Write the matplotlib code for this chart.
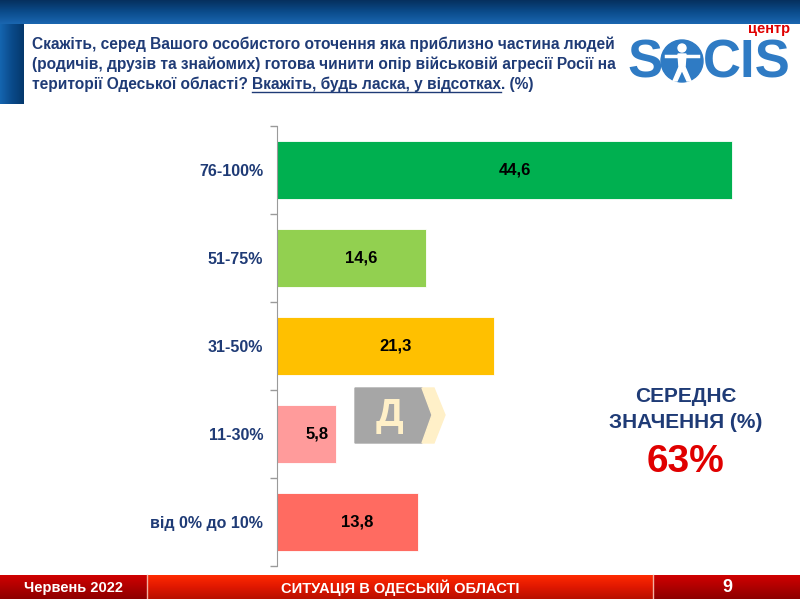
import matplotlib
matplotlib.use("Agg")
import matplotlib.pyplot as plt
import numpy as np
from matplotlib.colors import LinearSegmentedColormap
from matplotlib.patches import Polygon, Circle

# ---------------- data ----------------
categories = ["76-100%", "51-75%", "31-50%", "11-30%", "від 0% до 10%"]
values = [44.6, 14.6, 21.3, 5.8, 13.8]
bar_colors = ["#00B050", "#92D050", "#FFC000", "#FF9B9B", "#FF6B61"]
value_labels = ["44,6", "14,6", "21,3", "5,8", "13,8"]

title_lines = [
    "Скажіть, серед Вашого особистого оточення яка приблизно частина людей",
    "(родичів, друзів та знайомих) готова чинити опір військовій агресії Росії на",
]
title_line3 = ["території Одеської області? ", "Вкажіть, будь ласка, у відсотках", ". (%)"]
mean_label = ["СЕРЕДНЄ", "ЗНАЧЕННЯ (%)"]
mean_value = "63%"
footer_left = "Червень 2022"
footer_mid = "СИТУАЦІЯ В ОДЕСЬКІЙ ОБЛАСТІ"
footer_right = "9"

ARIAL = ["Liberation Sans", "DejaVu Sans"]
NAVY = "#1F3B76"

W, H = 800, 599
fig = plt.figure(figsize=(W / 100, H / 100), dpi=100)
fig.patch.set_facecolor("white")

bg = fig.add_axes([0, 0, 1, 1], zorder=0)
bg.set_xlim(0, W)
bg.set_ylim(H, 0)
bg.axis("off")

# header gradient band
hdr = LinearSegmentedColormap.from_list("hdr", ["#06305E", "#0B4C8C", "#1A66B0"])
grad_v = np.linspace(0, 1, 64).reshape(-1, 1)
bg.imshow(grad_v, cmap=hdr, extent=[0, W, 24, 0], aspect="auto", zorder=1)
strip = LinearSegmentedColormap.from_list("strip", ["#1565B0", "#0A4A8A", "#05386C"])
grad_h = np.linspace(0, 1, 64).reshape(1, -1)
bg.imshow(grad_h, cmap=strip, extent=[0, 24, 104, 24], aspect="auto", zorder=1)

# footer
ftr_dark = LinearSegmentedColormap.from_list("fd", ["#D00000", "#8E0000"])
ftr_mid = LinearSegmentedColormap.from_list("fm", ["#FF2A00", "#E01800", "#B81000"])
bg.imshow(grad_v, cmap=ftr_dark, extent=[0, 147, 599, 575], aspect="auto", zorder=1)
bg.imshow(grad_v, cmap=ftr_mid, extent=[147, 653, 599, 575], aspect="auto", zorder=1)
bg.imshow(grad_v, cmap=ftr_dark, extent=[653, 800, 599, 575], aspect="auto", zorder=1)
bg.plot([147, 147], [575, 599], color="#F4B0A0", lw=1, zorder=2)
bg.plot([653, 653], [575, 599], color="#F4B0A0", lw=1, zorder=2)
bg.text(74, 588, footer_left, color="white", fontsize=10.5, fontweight="bold",
        family=ARIAL, ha="center", va="center", zorder=3)
bg.text(400, 588, footer_mid, color="white", fontsize=10.5, fontweight="bold",
        family=ARIAL, ha="center", va="center", zorder=3)
bg.text(727, 588, footer_right, color="white", fontsize=13, fontweight="bold",
        family=ARIAL, ha="center", va="center", zorder=3)

# title
TFS = 11.2
for i, line in enumerate(title_lines):
    bg.text(32, 44 + 20 * i, line, color=NAVY, fontsize=TFS, fontweight="bold",
            family=ARIAL, ha="left", va="center", zorder=3)
fig.canvas.draw()
r = fig.canvas.get_renderer()
x = 32
y3 = 84
for j, part in enumerate(title_line3):
    t = bg.text(x, y3, part, color=NAVY, fontsize=TFS, fontweight="bold",
                family=ARIAL, ha="left", va="center", zorder=3)
    bb = t.get_window_extent(renderer=r)
    if j == 1:
        bg.plot([bb.x0, bb.x1], [y3 + 8, y3 + 8], color=NAVY, lw=1, zorder=3)
    x = bb.x1

# logo
LB = "#2F7BC4"
bg.text(627, 63, "S", color=LB, fontsize=38, fontweight="bold", family=ARIAL,
        ha="left", va="center", zorder=3)
bg.add_patch(Circle((682, 61), 21, color=LB, zorder=3))
bg.add_patch(Circle((682, 48), 4, color="white", zorder=4))
bg.plot([666, 698], [56, 56], color="white", lw=2.5, zorder=4)
bg.add_patch(Polygon([[678, 54], [686, 54], [685, 67], [691, 81], [687, 81],
                      [682, 70], [677, 81], [673, 81], [679, 67]],
                     closed=True, color="white", zorder=4))
bg.text(703, 63, "CIS", color=LB, fontsize=38, fontweight="bold", family=ARIAL,
        ha="left", va="center", zorder=3)
bg.text(790, 29, "центр", color="#E00000", fontsize=10.5, fontweight="bold",
        family=ARIAL, ha="right", va="center", zorder=3)

# mean block
bg.text(686, 396, mean_label[0], color=NAVY, fontsize=15, fontweight="bold",
        family=ARIAL, ha="center", va="center", zorder=3)
bg.text(686, 423, mean_label[1], color=NAVY, fontsize=15, fontweight="bold",
        family=ARIAL, ha="center", va="center", zorder=3)
bg.text(686, 462, mean_value, color="#E00000", fontsize=28, fontweight="bold",
        family=ARIAL, ha="center", va="center", zorder=3)

# "Д" arrow marker
bg.add_patch(Polygon([[355, 388], [422, 388], [432, 415], [422, 443], [355, 443]],
                     closed=True, color="#A6A6A6", zorder=3))
bg.add_patch(Polygon([[422, 388], [434, 388], [445, 415], [434, 443], [422, 443], [432, 415]],
                     closed=True, color="#FFF0C8", zorder=3))
bg.text(390, 416, "Д", color="#FFF0C8", fontsize=28, fontweight="bold",
        family=ARIAL, ha="center", va="center", zorder=4)

# ---------------- main chart ----------------
ax = fig.add_axes([277 / W, 33 / H, 510 / W, 440 / H], zorder=2)
ax.patch.set_alpha(0)
ypos = np.arange(len(categories))
ax.barh(ypos, values, height=0.66, color=bar_colors, edgecolor="white", linewidth=0.6)
for yv, v, lab in zip(ypos, values, value_labels):
    ax.text(v / 2 + 1.0, yv, lab, color="black", fontsize=12, fontweight="bold",
            family=ARIAL, ha="center", va="center")
ax.set_xlim(0, 50)
ax.set_ylim(len(categories) - 0.5, -0.5)
ax.set_yticks(ypos)
ax.set_yticklabels(categories, family=ARIAL, fontsize=11.5, fontweight="bold", color=NAVY)
ax.tick_params(axis="y", which="major", length=0, pad=10)
ax.set_yticks(np.arange(-0.5, len(categories), 1.0), minor=True)
ax.tick_params(axis="y", which="minor", length=5, color="#9A9A9A", width=1, direction="out")
ax.set_xticks([])
for s in ["top", "right", "bottom"]:
    ax.spines[s].set_visible(False)
ax.spines["left"].set_color("#9A9A9A")

fig.savefig("out.png", dpi=100)
